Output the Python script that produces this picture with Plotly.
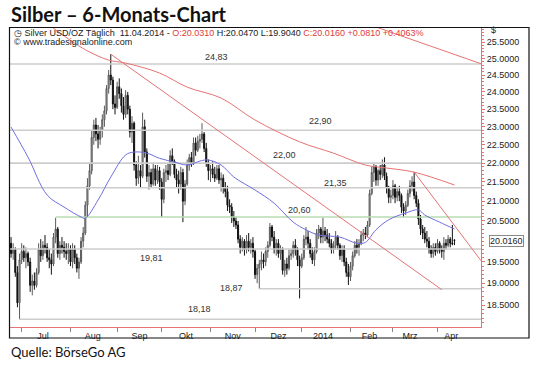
import math
import pandas as pd
import plotly.graph_objects as go

# ---------------- data (silver USD/oz, daily) ----------------
opens = [
    19.95, 19.70, 19.80, 19.25, 18.55,
    19.55, 19.75, 19.60, 19.70, 19.50, 18.95, 19.05, 18.95, 19.25, 19.80, 19.65, 19.90, 19.85, 19.60, 19.55, 19.45, 20.10, 20.30, 19.70, 19.90, 19.85, 19.75, 19.70,
    19.80, 19.50, 19.80, 19.60, 19.35, 19.50, 20.00, 20.20, 20.90, 21.40, 21.80, 22.70, 23.05, 22.80, 22.65, 22.90, 23.20, 23.45, 24.10, 24.50, 24.35, 23.65,
    23.55, 24.15, 23.95, 23.60, 23.35, 23.90, 23.50, 22.85, 23.10, 21.95, 21.60, 21.80, 21.65, 23.00, 22.30, 21.65, 21.75, 21.45, 21.85, 21.55, 21.80,
    21.50, 21.05, 21.75, 21.80, 21.70, 22.20, 22.05, 21.70, 21.55, 21.45, 21.75, 21.00, 21.45, 21.95, 22.15, 22.00, 22.55, 22.35, 22.60, 22.65, 22.80, 22.40, 22.00,
    21.80, 21.85, 21.70, 21.60, 21.85, 21.55, 21.60, 21.35, 21.25, 20.90, 20.85, 20.60, 20.50, 20.40, 20.05, 19.85, 20.00, 19.80, 20.00, 19.85, 19.95,
    19.75, 19.20, 19.35, 19.45, 19.55, 19.50, 19.75, 19.90, 20.35, 20.10, 19.80, 19.95, 19.70, 19.80, 19.30, 19.45, 19.35, 19.65, 19.70, 19.90, 19.80, 19.55,
    19.40, 19.60, 20.05, 20.10, 19.95, 19.70, 19.55, 19.75, 20.20, 20.30, 20.10, 20.25, 20.15, 20.05, 19.95, 19.80, 19.90, 20.10, 19.90, 19.65, 19.80, 19.50, 19.25,
    19.15, 19.40, 19.65, 19.90, 19.85, 19.95, 20.15, 20.20, 20.15, 20.40, 21.20, 21.75, 21.90, 21.55, 21.80, 21.70, 21.95, 21.65, 21.35, 21.10,
    21.15, 21.40, 21.10, 21.25, 21.15, 20.85, 20.75, 20.90, 21.20, 21.40, 21.50, 21.15, 20.95, 20.55, 20.30, 20.20, 20.05, 20.00, 19.80, 19.70, 19.85,
    19.75, 19.95, 19.80, 19.75, 19.95, 19.90, 20.05, 19.95, 20.031,
]
highs = [
    20.10, 19.95, 19.85, 19.40, 19.70,
    19.95, 19.90, 19.85, 19.75, 19.60, 19.20, 19.25, 19.35, 19.95, 20.05, 20.00, 20.15, 19.95, 19.80, 19.70, 20.20, 20.58, 20.35, 20.00, 20.10, 20.00, 19.95, 19.95,
    19.90, 19.95, 19.90, 19.70, 19.60, 20.10, 20.35, 21.00, 21.60, 22.00, 22.90, 23.20, 23.25, 23.05, 23.00, 23.35, 23.60, 24.20, 24.65, 25.13, 24.45, 23.90,
    24.30, 24.40, 24.10, 23.85, 24.05, 24.00, 23.60, 23.30, 23.15, 22.05, 22.20, 21.95, 23.40, 23.20, 22.40, 21.95, 21.85, 22.00, 21.95, 21.95, 21.90,
    21.60, 21.85, 21.95, 22.00, 22.35, 22.40, 22.10, 21.85, 21.80, 21.90, 21.85, 21.55, 22.10, 22.25, 22.30, 22.70, 22.70, 22.75, 22.80, 23.10, 22.85, 22.55, 22.10,
    21.95, 22.05, 21.90, 21.95, 21.95, 21.75, 21.70, 21.50, 21.40, 21.05, 20.95, 20.75, 20.60, 20.50, 20.15, 20.10, 20.05, 20.15, 20.20, 20.05, 20.10,
    19.80, 19.45, 19.55, 19.75, 19.70, 19.85, 20.00, 20.45, 20.40, 20.25, 20.05, 20.05, 19.90, 19.85, 19.55, 19.60, 19.80, 19.80, 20.00, 20.05, 19.85, 19.65,
    19.70, 20.15, 20.35, 20.25, 20.05, 19.85, 19.85, 20.30, 20.40, 20.35, 20.58, 20.35, 20.30, 20.20, 20.05, 20.00, 20.25, 20.15, 19.95, 19.90, 19.90, 19.60, 19.45,
    19.50, 19.75, 20.00, 20.05, 20.05, 20.25, 20.30, 20.35, 20.50, 21.30, 21.90, 22.00, 21.95, 21.85, 21.95, 22.10, 22.16, 21.75, 21.40, 21.30,
    21.55, 21.45, 21.35, 21.40, 21.20, 20.95, 21.00, 21.30, 21.55, 21.65, 21.76, 21.25, 21.05, 20.65, 20.40, 20.35, 20.25, 20.10, 19.90, 19.95, 19.95,
    20.05, 20.00, 19.90, 20.10, 20.05, 20.15, 20.10, 20.40, 20.047,
]
lows = [
    19.60, 19.55, 19.15, 18.45, 18.18,
    19.45, 19.50, 19.35, 19.40, 18.80, 18.72, 18.85, 18.90, 19.20, 19.50, 19.55, 19.70, 19.50, 19.35, 19.20, 19.40, 19.95, 19.60, 19.55, 19.70, 19.60, 19.55, 19.45,
    19.40, 19.35, 19.45, 19.25, 19.10, 19.45, 19.85, 20.15, 20.60, 21.30, 21.70, 22.50, 22.60, 22.40, 22.50, 22.70, 23.00, 23.35, 23.95, 24.20, 23.50, 23.35,
    23.50, 23.80, 23.40, 23.20, 23.25, 23.35, 22.70, 22.55, 21.80, 21.40, 21.45, 21.35, 21.60, 22.15, 21.50, 21.30, 21.35, 21.40, 21.40, 21.45, 21.30,
    20.60, 20.95, 21.50, 21.55, 21.65, 21.95, 21.60, 21.35, 21.20, 21.30, 20.47, 20.90, 21.40, 21.80, 21.90, 21.95, 22.20, 22.30, 22.40, 22.55, 22.30, 21.90, 21.55,
    21.50, 21.60, 21.50, 21.55, 21.45, 21.25, 21.20, 21.10, 20.75, 20.70, 20.45, 20.35, 20.30, 19.95, 19.70, 19.75, 19.65, 19.70, 19.75, 19.70, 19.60,
    19.10, 19.00, 18.87, 19.30, 19.35, 19.40, 19.60, 19.85, 20.00, 19.70, 19.65, 19.60, 19.55, 19.20, 19.15, 19.20, 19.30, 19.55, 19.60, 19.65, 19.40, 18.65,
    19.35, 19.55, 19.90, 19.80, 19.60, 19.45, 19.40, 19.70, 20.05, 19.95, 19.95, 20.00, 19.95, 19.85, 19.70, 19.70, 19.80, 19.80, 19.55, 19.50, 19.40, 19.15, 18.96,
    19.05, 19.30, 19.60, 19.70, 19.65, 19.90, 20.00, 20.05, 20.10, 20.35, 21.15, 21.50, 21.40, 21.40, 21.55, 21.60, 21.55, 21.20, 20.95, 20.95,
    21.05, 20.95, 21.00, 21.00, 20.70, 20.60, 20.65, 20.85, 21.10, 21.25, 21.05, 20.85, 20.40, 20.15, 20.05, 19.95, 19.85, 19.70, 19.60, 19.60, 19.65,
    19.70, 19.70, 19.60, 19.55, 19.80, 19.85, 19.85, 19.90, 19.904,
]
closes = [
    19.70, 19.80, 19.25, 18.55, 19.55,
    19.75, 19.60, 19.70, 19.50, 18.95, 19.05, 18.95, 19.25, 19.80, 19.65, 19.90, 19.85, 19.60, 19.55, 19.45, 20.10, 20.30, 19.70, 19.90, 19.85, 19.75, 19.70, 19.80,
    19.50, 19.80, 19.60, 19.35, 19.50, 20.00, 20.20, 20.90, 21.40, 21.80, 22.70, 23.05, 22.80, 22.65, 22.90, 23.20, 23.45, 24.10, 24.50, 24.35, 23.65, 23.55,
    24.15, 23.95, 23.60, 23.35, 23.90, 23.50, 22.85, 23.10, 21.95, 21.60, 21.80, 21.65, 23.00, 22.30, 21.65, 21.75, 21.45, 21.85, 21.55, 21.80, 21.50,
    21.05, 21.75, 21.80, 21.70, 22.20, 22.05, 21.70, 21.55, 21.45, 21.75, 21.00, 21.45, 21.95, 22.15, 22.00, 22.55, 22.35, 22.60, 22.65, 22.80, 22.40, 22.00, 21.80,
    21.85, 21.70, 21.60, 21.85, 21.55, 21.60, 21.35, 21.25, 20.90, 20.85, 20.60, 20.50, 20.40, 20.05, 19.85, 20.00, 19.80, 20.00, 19.85, 19.95, 19.75,
    19.20, 19.35, 19.45, 19.55, 19.50, 19.75, 19.90, 20.35, 20.10, 19.80, 19.95, 19.70, 19.80, 19.30, 19.45, 19.35, 19.65, 19.70, 19.90, 19.80, 19.55, 19.40,
    19.60, 20.05, 20.10, 19.95, 19.70, 19.55, 19.75, 20.20, 20.30, 20.10, 20.25, 20.15, 20.05, 19.95, 19.80, 19.90, 20.10, 19.90, 19.65, 19.80, 19.50, 19.25, 19.15,
    19.40, 19.65, 19.90, 19.85, 19.95, 20.15, 20.20, 20.15, 20.40, 21.20, 21.75, 21.90, 21.55, 21.80, 21.70, 21.95, 21.65, 21.35, 21.10, 21.15,
    21.40, 21.10, 21.25, 21.15, 20.85, 20.75, 20.90, 21.20, 21.40, 21.50, 21.15, 20.95, 20.55, 20.30, 20.20, 20.05, 20.00, 19.80, 19.70, 19.85, 19.75,
    19.95, 19.80, 19.75, 19.95, 19.90, 20.05, 19.95, 19.935, 20.016,
]

# moving-average style curves
blue_dates = ["2013-06-24", "2013-07-04", "2013-07-17", "2013-07-29", "2013-08-08", "2013-08-12",
              "2013-08-20", "2013-08-28", "2013-09-06", "2013-09-12", "2013-09-20", "2013-09-30",
              "2013-10-09", "2013-10-17", "2013-10-30", "2013-11-08", "2013-11-18", "2013-12-02",
              "2013-12-13", "2013-12-26", "2014-01-03", "2014-01-13", "2014-01-27", "2014-02-06",
              "2014-02-12", "2014-02-19", "2014-02-27", "2014-03-11", "2014-03-19", "2014-03-24",
              "2014-04-02", "2014-04-11"]
blue_values = [22.99, 22.16, 21.16, 20.85, 20.60, 20.57, 21.03, 21.63, 22.22, 22.30, 22.27, 22.13,
               22.03, 21.95, 22.09, 21.95, 21.63, 21.29, 20.95, 20.47, 20.28, 20.15, 20.10, 19.95,
               19.97, 20.28, 20.53, 20.70, 20.78, 20.65, 20.47, 20.30]

red_ma_dates = ["2013-07-18", "2013-08-05", "2013-08-14", "2013-08-27", "2013-09-06", "2013-09-30",
                "2013-10-17", "2013-11-08", "2013-12-02", "2013-12-31", "2014-01-22", "2014-02-12",
                "2014-02-26", "2014-03-17", "2014-04-11"]
red_ma_values = [26.04, 25.47, 25.20, 24.95, 24.86, 24.56, 24.14, 23.82, 23.19, 22.58, 22.27, 21.95,
                 21.87, 21.76, 21.42]

# straight trend lines (start date, start price, end date, end price)
trend_lines = [
    ("2013-08-28", 25.13, "2014-04-03", 18.85),
    ("2014-02-19", 25.98, "2014-04-29 12:00", 24.84),
    ("2014-03-17", 21.76, "2014-04-29 12:00", 19.53),
]

# horizontal support / resistance levels
levels = [24.83, 22.90, 22.00, 21.35, 20.60, 19.81, 18.87, 18.18]
level_labels = ["24,83", "22,90", "22,00", "21,35", "20,60", "19,81", "18,87", "18,18"]
level_starts = [None, None, None, None, "2013-07-23", None, "2013-12-04", "2013-06-28"]
level_label_dates = ["2013-11-06", "2014-01-14", "2013-12-20", "2014-01-23", "2013-12-31",
                     "2013-09-24", "2013-11-15", "2013-10-25"]
level_label_shift = [7, 9, 8, 5, 7, -9, 1, 10]

month_labels = ["Jul", "Aug", "Sep", "Okt", "Nov", "Dez", "2014", "Feb", "Mrz", "Apr"]
month_label_dates = ["2013-07-15", "2013-08-15 12:00", "2013-09-16 12:00", "2013-10-16 12:00",
                     "2013-11-15 12:00", "2013-12-17", "2014-01-15", "2014-02-14", "2014-03-13",
                     "2014-04-09 12:00"]
month_start_dates = ["2013-07-01", "2013-08-01", "2013-09-02", "2013-10-01", "2013-11-01",
                     "2013-12-02", "2014-01-01", "2014-02-03", "2014-03-03", "2014-04-01"]
y_tick_values = [25.5, 25.0, 24.5, 24.0, 23.5, 23.0, 22.5, 22.0, 21.5, 21.0, 20.5, 19.5, 19.0, 18.5]

prev_close = 19.935

# ---------------- figure ----------------
dates = pd.bdate_range("2013-06-24", "2014-04-11")
assert len(dates) == len(opens) == len(highs) == len(lows) == len(closes)

X0, X1 = "2013-06-21 12:00", "2014-04-29 12:00"
RED = "#e57373"
FONT = "Liberation Sans, Arial, sans-serif"
L, R, T, B = 10, 59, 27, 39
PW, PH = 540 - L - R, 366 - T - B


def px_x(x):
    return (x - L) / PW


def px_y(y):
    return (T + PH - y) / PH


fig = go.Figure()

for lv, st in zip(levels, level_starts):
    fig.add_trace(go.Scatter(
        x=[st or X0, X1], y=[lv, lv], mode="lines",
        line=dict(color="#b9dcb0" if lv == 20.60 else "#cdcdcd", width=1.6),
        hoverinfo="skip"))

fig.add_trace(go.Scatter(x=blue_dates, y=blue_values, mode="lines",
                         line=dict(color="#6f6fe0", width=1, shape="spline"), hoverinfo="skip"))
fig.add_trace(go.Scatter(x=red_ma_dates, y=red_ma_values, mode="lines",
                         line=dict(color=RED, width=1, shape="spline"), hoverinfo="skip"))

fig.add_trace(go.Candlestick(
    x=dates, open=opens, high=highs, low=lows, close=closes,
    increasing=dict(line=dict(color="#5a5a5a", width=1), fillcolor="#b4b4b4"),
    decreasing=dict(line=dict(color="#111111", width=1), fillcolor="#111111"),
    whiskerwidth=0, hoverinfo="skip"))

for d0, p0, d1, p1 in trend_lines:
    fig.add_trace(go.Scatter(x=[d0, d1], y=[p0, p1], mode="lines",
                             line=dict(color=RED, width=1), hoverinfo="skip"))

ann = []
for txt, d, lv, sh in zip(level_labels, level_label_dates, levels, level_label_shift):
    ann.append(dict(x=d, y=math.log10(lv), xref="x", yref="y", text=txt, showarrow=False,
                    yshift=sh, font=dict(family=FONT, size=9, color="#333")))

o, h, lo, c = opens[-1], highs[-1], lows[-1], closes[-1]
chg = c - prev_close
nb = "\u00a0"
header = (f"\u25f7 Silver USD/OZ Täglich{nb}{nb}11.04.2014 - "
          f"<span style='color:#e03a3a'>O:{o:.4f}</span> H:{h:.4f} L:{lo:.4f} "
          f"<span style='color:#e03a3a'>C:{c:.4f} +{chg:.4f} +{chg / prev_close * 100:.4f}%</span>")
ann += [
    dict(x=px_x(12), y=px_y(33), xref="paper", yref="paper", xanchor="left", yanchor="middle",
         text=header, showarrow=False, font=dict(family=FONT, size=9, color="#222")),
    dict(x=px_x(12), y=px_y(42.5), xref="paper", yref="paper", xanchor="left", yanchor="middle",
         text="© www.tradesignalonline.com", showarrow=False, font=dict(family=FONT, size=9, color="#222")),
    dict(x=px_x(9), y=px_y(14), xref="paper", yref="paper", xanchor="left", yanchor="middle",
         text="<b>Silber – 6-Monats-Chart</b>", showarrow=False,
         font=dict(family="Lato, Open Sans, sans-serif", size=20, color="#111")),
    dict(x=px_x(9), y=px_y(352), xref="paper", yref="paper", xanchor="left", yanchor="middle",
         text="Quelle: BörseGo AG", showarrow=False,
         font=dict(family="Lato, Open Sans, sans-serif", size=13, color="#111")),
    dict(x=px_x(489), y=px_y(30), xref="paper", yref="paper", xanchor="left", yanchor="middle",
         text="$", showarrow=False, font=dict(family=FONT, size=9, color="#222")),
    dict(x=px_x(489), y=math.log10(c), xref="paper", yref="y", xanchor="left", yanchor="middle",
         text=f"{c:.4f}", showarrow=False, bgcolor="white", bordercolor="#8a8a8a", borderwidth=1,
         borderpad=0, font=dict(family=FONT, size=9, color="#222")),
]

shapes = [
    dict(type="rect", xref="paper", yref="paper", x0=px_x(9.5), x1=px_x(529), y0=px_y(338), y1=px_y(27.5),
         line=dict(color="#111", width=1.2), fillcolor="rgba(0,0,0,0)", layer="above"),
]

fig.update_layout(
    width=540, height=366, margin=dict(l=L, r=R, t=T, b=B),
    paper_bgcolor="white", plot_bgcolor="white", showlegend=False, hovermode=False,
    annotations=ann, shapes=shapes,
    xaxis=dict(type="date", range=[X0, X1], rangebreaks=[dict(bounds=["sat", "mon"])],
               rangeslider=dict(visible=False), showgrid=False, zeroline=False,
               tickmode="array", tickvals=month_label_dates, ticktext=month_labels, ticks="",
               tickfont=dict(family=FONT, size=9, color="#222"),
               minor=dict(tickmode="array", tickvals=month_start_dates, ticks="outside",
                          ticklen=4, tickcolor="#888", showgrid=False),
               showline=True, linecolor=RED, linewidth=1),
    yaxis=dict(type="log", side="right", range=[math.log10(18.01), math.log10(25.98)],
               showgrid=False, zeroline=False, tickmode="array", tickvals=y_tick_values,
               ticktext=[f"{v:.4f}" for v in y_tick_values], ticks="outside", ticklen=3,
               tickcolor=RED, tickfont=dict(family=FONT, size=9, color="#222"),
               minor=dict(tickmode="array", tickvals=[round(18.1 + 0.1 * i, 1) for i in range(79)],
                          ticks="outside", ticklen=2, tickcolor=RED),
               showline=True, linecolor=RED, linewidth=1),
)

fig.write_html("out.html", config={"displayModeBar": False},
               post_script="document.body.style.margin='0px';document.body.style.padding='0px';")
